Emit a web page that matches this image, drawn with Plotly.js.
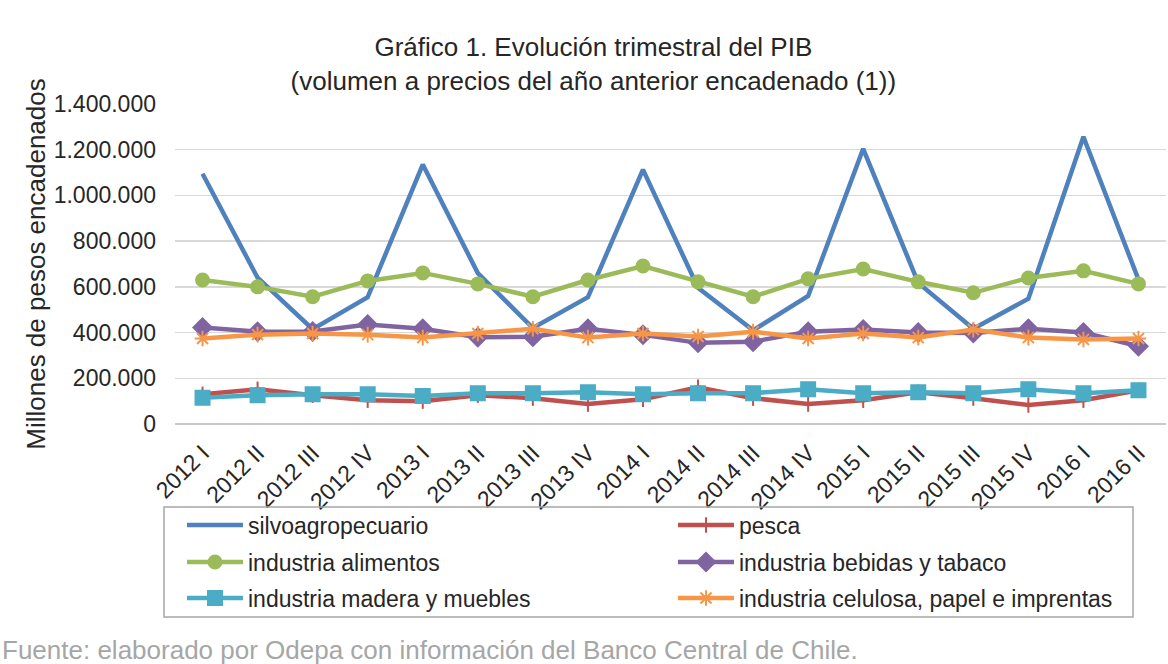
<!DOCTYPE html>
<html>
<head>
<meta charset="utf-8">
<script src="https://cdn.plot.ly/plotly-3.0.1.min.js"></script>
<style>html,body{margin:0;padding:0;background:#fff;}#chart{width:1168px;height:664px;}</style>
</head>
<body>
<div id="chart"></div>
<script>
const quarters = ["2012 I","2012 II","2012 III","2012 IV","2013 I","2013 II","2013 III","2013 IV","2014 I","2014 II","2014 III","2014 IV","2015 I","2015 II","2015 III","2015 IV","2016 I","2016 II"];
const silvoagropecuario = [1095000,640000,415000,555000,1135000,660000,420000,555000,1113000,596000,410000,560000,1204000,617000,417000,548000,1257000,632000];
const pesca = [130000,152000,126000,104000,100000,126000,113000,87000,108000,161000,113000,87000,104000,139000,113000,83000,104000,148000];
const alimentos = [630000,600000,557000,626000,661000,613000,557000,630000,691000,622000,557000,635000,678000,622000,574000,639000,670000,613000];
const bebidas = [422000,404000,405000,435000,417000,380000,382000,417000,390000,355000,360000,404000,413000,400000,398000,417000,400000,340000];
const madera = [115000,126000,130000,130000,122000,135000,135000,139000,130000,135000,135000,152000,135000,139000,135000,152000,135000,148000];
const celulosa = [374000,391000,396000,391000,378000,396000,417000,378000,396000,383000,404000,374000,396000,378000,413000,378000,370000,374000];
const yTicks = [0,200000,400000,600000,800000,1000000,1200000,1400000];

const FONT = "Liberation Sans, Arial, sans-serif";
function tr(name, y, color, symbol, msize, legendId) {
  return {
    type: "scatter", mode: symbol ? "lines+markers" : "lines",
    x: quarters, y: y, name: name,
    line: {color: color, width: 4.5},
    marker: {symbol: symbol, size: msize, color: color, line: {color: color, width: 2}},
    legend: legendId
  };
}
const data = [
  tr("silvoagropecuario", silvoagropecuario, "#4F81BD", null, 0, "legend"),
  tr("pesca", pesca, "#C0504D", "line-ns-open", 11, "legend"),
  tr("industria alimentos", alimentos, "#9BBB59", "circle", 13, "legend2"),
  tr("industria bebidas y tabaco", bebidas, "#8064A2", "diamond", 14, "legend2"),
  tr("industria madera y muebles", madera, "#4BACC6", "square", 14, "legend3"),
  tr("industria celulosa, papel e imprentas", celulosa, "#F79646", "asterisk-open", 13, "legend3")
];

const L = 175, T = 104, PW = 991, PH = 320;
function px2x(p){ return (p - L) / PW; }
function px2y(p){ return (T + PH - p) / PH; }
function leg(yp){
  return {
    orientation: "h", x: px2x(182), xanchor: "left", y: px2y(yp), yanchor: "middle",
    entrywidth: 420, entrywidthmode: "pixels", itemwidth: 56,
    bgcolor: "rgba(0,0,0,0)", borderwidth: 0,
    font: {family: FONT, size: 23, color: "#262626"},
    traceorder: "normal", itemclick: false, itemdoubleclick: false
  };
}

const layout = {
  width: 1168, height: 664,
  margin: {l: L, r: 1168 - L - PW, t: T, b: 664 - T - PH},
  paper_bgcolor: "#ffffff", plot_bgcolor: "#ffffff",
  separators: ",.",
  font: {family: FONT, color: "#262626"},
  title: {
    text: "Gráfico 1. Evolución trimestral del PIB<br>(volumen a precios del año anterior encadenado (1))",
    font: {family: FONT, size: 26, color: "#262626"},
    xref: "container", x: 0.508, xanchor: "center",
    yref: "container", y: 1 - 56/664, yanchor: "middle"
  },
  xaxis: {
    type: "category", range: [-0.5, 17.5],
    showgrid: false, zeroline: false, showline: false, ticks: "",
    tickangle: -45, ticklabelstandoff: 10,
    tickfont: {family: FONT, size: 23, color: "#262626"}
  },
  yaxis: {
    range: [0, 1400000], tickvals: yTicks, tickformat: ",d",
    showgrid: true, gridcolor: "#D9D9D9", gridwidth: 1.5,
    zeroline: true, zerolinecolor: "#C8C8C8", zerolinewidth: 1.5,
    showline: false, ticks: "", ticklabelstandoff: 18,
    tickfont: {family: FONT, size: 23, color: "#262626"},
    title: {text: "Millones de pesos encadenados", font: {family: FONT, size: 26, color: "#262626"}, standoff: 0}
  },
  showlegend: true,
  legend: leg(525),
  legend2: leg(562),
  legend3: leg(598),
  shapes: [{
    type: "rect", xref: "paper", yref: "paper",
    x0: px2x(164), x1: px2x(1133), y0: px2y(617), y1: px2y(507),
    line: {color: "#A6A6A6", width: 1.5}, fillcolor: "rgba(0,0,0,0)"
  }],
  annotations: [{
    text: "Fuente: elaborado por Odepa con información del Banco Central de Chile.",
    xref: "paper", yref: "paper", x: px2x(0), y: px2y(650), xanchor: "left", yanchor: "middle",
    showarrow: false, font: {family: FONT, size: 26, color: "#A6A6A6"}
  }]
};

Plotly.newPlot("chart", data, layout, {displayModeBar: false, staticPlot: true});
</script>
</body>
</html>
